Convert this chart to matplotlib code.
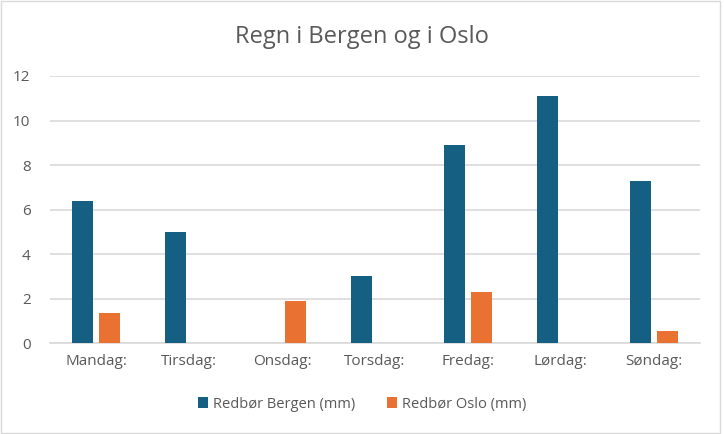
import numpy as np
import matplotlib.pyplot as plt
from matplotlib.patches import Rectangle

days = ["Mandag:", "Tirsdag:", "Onsdag:", "Torsdag:", "Fredag:", "Lørdag:", "Søndag:"]
bergen = [6.4, 5.0, 0, 3.0, 8.9, 11.1, 7.3]
oslo = [1.35, 0, 1.9, 0, 2.3, 0, 0.55]

plt.rcParams['font.family'] = ['Open Sans', 'DejaVu Sans']
grey = "#595959"

fig = plt.figure(figsize=(7.24, 4.34), dpi=100)
ax = fig.add_axes([0.069, 0.209, 0.898, 0.616])

x = np.arange(len(days))
w = 0.226
ax.bar(x - 0.146, bergen, w, color="#156082", label="Redbør Bergen (mm)", zorder=3)
ax.bar(x + 0.146, oslo, w, color="#E97132", label="Redbør Oslo (mm)", zorder=3)

ax.set_xlim(-0.5, len(days) - 0.5)
ax.set_ylim(0, 12)
ax.set_yticks(range(0, 13, 2))
ax.set_xticks(x)
ax.set_xticklabels(days)
ax.grid(axis="y", color="#d9d9d9", linewidth=1.2, zorder=0)
for s in ["top", "right", "left"]:
    ax.spines[s].set_visible(False)
ax.spines["bottom"].set_color("#d9d9d9")
ax.spines["bottom"].set_linewidth(1.2)
ax.tick_params(length=0, colors=grey, labelsize=11)
ax.tick_params(axis="x", pad=8)
ax.tick_params(axis="y", pad=14)

fig.text(0.5, 0.914, "Regn i Bergen og i Oslo", ha="center", va="center",
         fontsize=17, color=grey)
ax.legend(loc="center", bbox_to_anchor=(0.5, 0.069), bbox_transform=fig.transFigure,
          ncol=2, frameon=False, fontsize=10.5, labelcolor=grey,
          handlelength=0.7, handleheight=0.7, handletextpad=0.3, columnspacing=2.2)

fig.patches.append(Rectangle((0.001, 0.003), 0.993, 0.994, transform=fig.transFigure,
                             fill=False, edgecolor="#d9d9d9", linewidth=1))

fig.savefig("out.png", dpi=100)
